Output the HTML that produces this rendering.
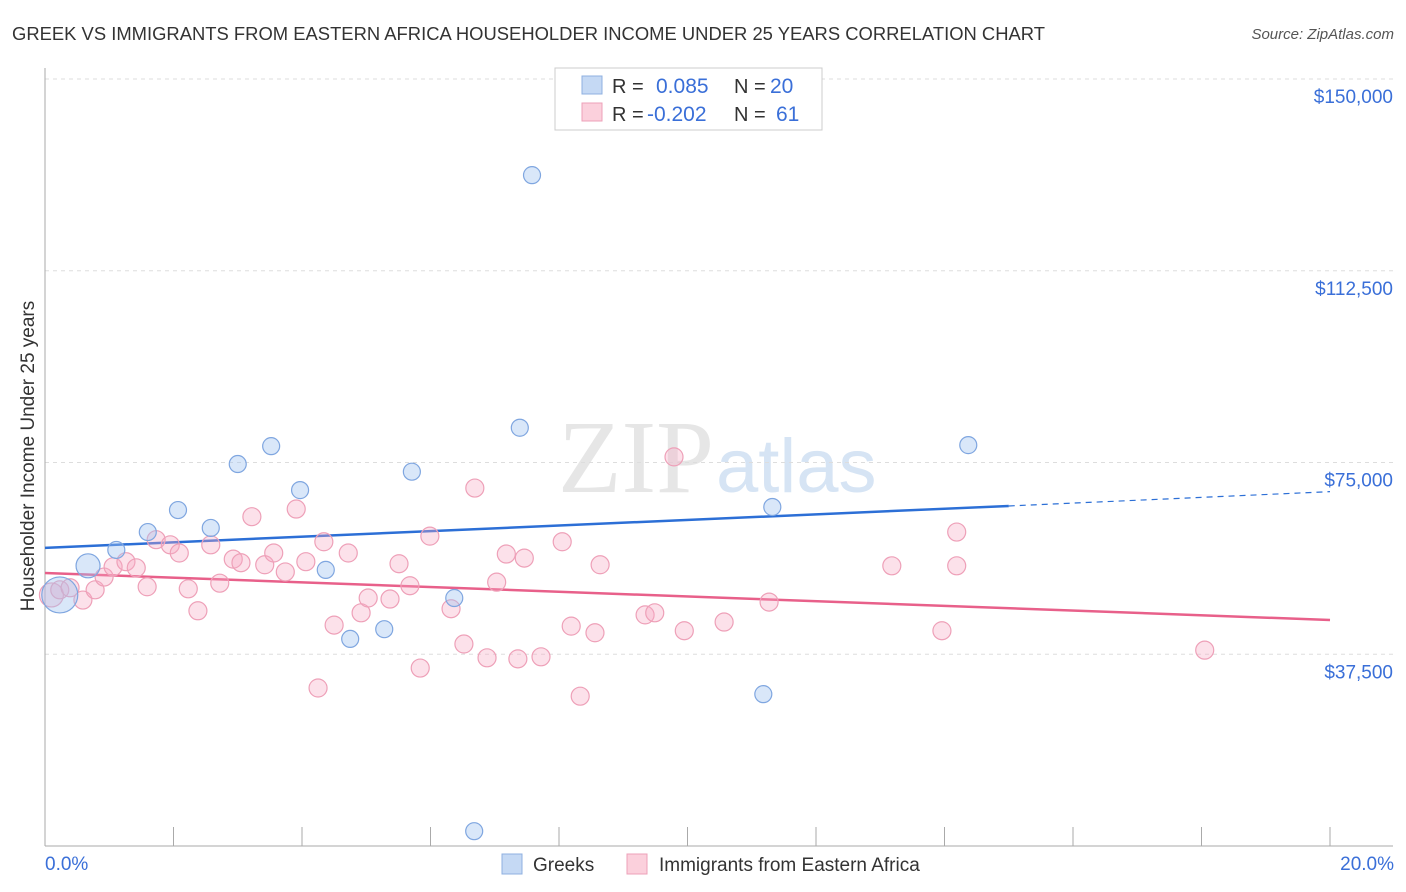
<!DOCTYPE html>
<html><head><meta charset="utf-8"><style>
body{margin:0;background:#fff;font-family:"Liberation Sans",sans-serif;}
svg{display:block}
</style></head><body>
<svg id="chart" width="1406" height="892">
<text x="12" y="40" font-size="18" fill="#333" textLength="1033" lengthAdjust="spacingAndGlyphs">GREEK VS IMMIGRANTS FROM EASTERN AFRICA HOUSEHOLDER INCOME UNDER 25 YEARS CORRELATION CHART</text>
<text x="1394" y="39" font-size="15" fill="#555" font-style="italic" text-anchor="end">Source: ZipAtlas.com</text>
<text x="714" y="492" font-size="104" fill="#e6e6e6" text-anchor="end" font-family="Liberation Serif">ZIP</text>
<text x="716" y="492" font-size="76" fill="#d6e4f4">atlas</text>
<g id="grid"></g><g id="axes"></g><g id="trend"></g><g id="pts"></g>
<text transform="translate(34,456) rotate(-90)" font-size="19" fill="#333" text-anchor="middle">Householder Income Under 25 years</text>
<text x="45" y="870" font-size="19" fill="#3a6fd8">0.0%</text>
<text x="1394" y="870" font-size="19" fill="#3a6fd8" text-anchor="end">20.0%</text>
<g>
<rect x="555" y="68" width="267" height="62" fill="#fff" stroke="#ccc"/>
<rect x="582" y="76" width="20" height="18" fill="#c5d9f4" stroke="#8fb0e0"/>
<rect x="582" y="103" width="20" height="18" fill="#fbd0dc" stroke="#eea0b8"/>
<text x="612" y="93" font-size="20" fill="#333">R =</text><text x="656" y="93" font-size="21" fill="#3a6fd8">0.085</text>
<text x="734" y="93" font-size="20" fill="#333">N =</text><text x="770" y="93" font-size="21" fill="#3a6fd8">20</text>
<text x="612" y="121" font-size="20" fill="#333">R =</text><text x="647" y="121" font-size="21" fill="#3a6fd8">-0.202</text>
<text x="734" y="121" font-size="20" fill="#333">N =</text><text x="776" y="121" font-size="21" fill="#3a6fd8">61</text>
</g>
<g>
<rect x="502" y="854" width="20" height="20" fill="#c5d9f4" stroke="#8fb0e0"/>
<text x="533" y="871" font-size="19" fill="#333">Greeks</text>
<rect x="627" y="854" width="20" height="20" fill="#fbd0dc" stroke="#eea0b8"/>
<text x="659" y="871" font-size="19" fill="#333">Immigrants from Eastern Africa</text>
</g>
</svg>
<script>
const yTicks=[37500,75000,112500,150000];
const yTickLabels=["$37,500","$75,000","$112,500","$150,000"];
const greekX=[0.23,0.67,1.11,1.60,2.07,2.58,3.00,3.52,3.97,4.37,4.75,5.28,5.71,6.37,7.39,7.58,6.68,11.18,11.32,14.37];
const greekY=[49100,54800,57900,61400,65700,62200,74700,78200,69600,54000,40500,42400,73200,48500,81800,131200,2900,29700,66300,78400];
const greekR=[18,12,8.5,8.5,8.5,8.5,8.5,8.5,8.5,8.5,8.5,8.5,8.5,8.5,8.5,8.5,8.5,8.5,8.5,8.5];
const immX=[0.1,0.23,0.39,0.59,0.78,0.92,1.06,1.26,1.42,1.59,1.73,1.95,2.09,2.23,2.38,2.58,2.72,2.93,3.05,3.22,3.42,3.56,3.74,3.91,4.06,4.25,4.34,4.50,4.72,4.92,5.03,5.37,5.51,5.68,5.84,5.99,6.32,6.52,6.69,6.88,7.03,7.18,7.36,7.46,7.72,8.05,8.19,8.33,8.56,8.64,9.34,9.49,9.79,9.95,10.57,11.27,13.18,13.96,14.19,14.19,18.05];
const immY=[49100,50100,50500,48100,50100,52600,54600,55600,54400,50700,59900,58900,57300,50300,46000,58900,51400,56100,55400,64400,55000,57300,53600,65900,55600,30900,59500,43200,57300,45600,48500,48300,55200,50900,34800,60600,46400,39500,70000,36800,51600,57100,36600,56300,37000,59500,43000,29300,41700,55000,45200,45600,76100,42100,43800,47700,54800,42100,61400,54800,38300];
const greekTrend=[[0,58300],[15.0,66500],[20,69300]];
const immTrend=[[0,53400],[20,44200]];
const X=v=>45+v/20*1285, Y=v=>846-v/150000*(846-79);
const ns="http://www.w3.org/2000/svg";
function mk(t,a,p){const e=document.createElementNS(ns,t);for(const k in a)e.setAttribute(k,a[k]);p.appendChild(e);return e;}
const grid=document.getElementById('grid'),axes=document.getElementById('axes');
yTicks.forEach((t,i)=>{
 const l=mk('line',{x1:45,x2:1393,y1:Y(t),y2:Y(t),stroke:'#ddd','stroke-dasharray':'4,4'},grid);
 
 
 const tx=mk('text',{x:1393,y:Y(t)+24,'font-size':19,fill:'#3a6fd8','text-anchor':'end'},axes);
 tx.textContent=yTickLabels[i];
 
 
});
const ax=mk('line',{x1:45,x2:45,y1:68,y2:846,stroke:'#aaa'},axes);


const bx=mk('line',{x1:45,x2:1393,y1:846,y2:846,stroke:'#aaa'},axes);


for(let i=1;i<=10;i++){const t=mk('line',{x1:X(i*2),x2:X(i*2),y1:827,y2:846,stroke:'#aaa'},axes);
 
 }
const tg=document.getElementById('trend');
let g1=mk('line',{x1:X(greekTrend[0][0]),y1:Y(greekTrend[0][1]),x2:X(greekTrend[1][0]),y2:Y(greekTrend[1][1]),stroke:'#2c6fd6','stroke-width':2.5},tg);


let g2=mk('line',{x1:X(greekTrend[1][0]),y1:Y(greekTrend[1][1]),x2:X(greekTrend[2][0]),y2:Y(greekTrend[2][1]),stroke:'#2c6fd6','stroke-width':1.2,'stroke-dasharray':'6,5'},tg);


let p1=mk('line',{x1:X(immTrend[0][0]),y1:Y(immTrend[0][1]),x2:X(immTrend[1][0]),y2:Y(immTrend[1][1]),stroke:'#e8608a','stroke-width':2.5},tg);


const pts=document.getElementById('pts');
immX.forEach((x,i)=>{const c=mk('circle',{cx:X(x),cy:Y(immY[i]),r:i==0?12:9,fill:'rgba(246,170,195,0.35)',stroke:'#eea0b8','stroke-width':1.2},pts);
 
 });
greekX.forEach((x,i)=>{const c=mk('circle',{cx:X(x),cy:Y(greekY[i]),r:greekR[i],fill:'rgba(160,195,240,0.4)',stroke:'#7fa6e0','stroke-width':1.2},pts);
 
 });
</script>
</body></html>
